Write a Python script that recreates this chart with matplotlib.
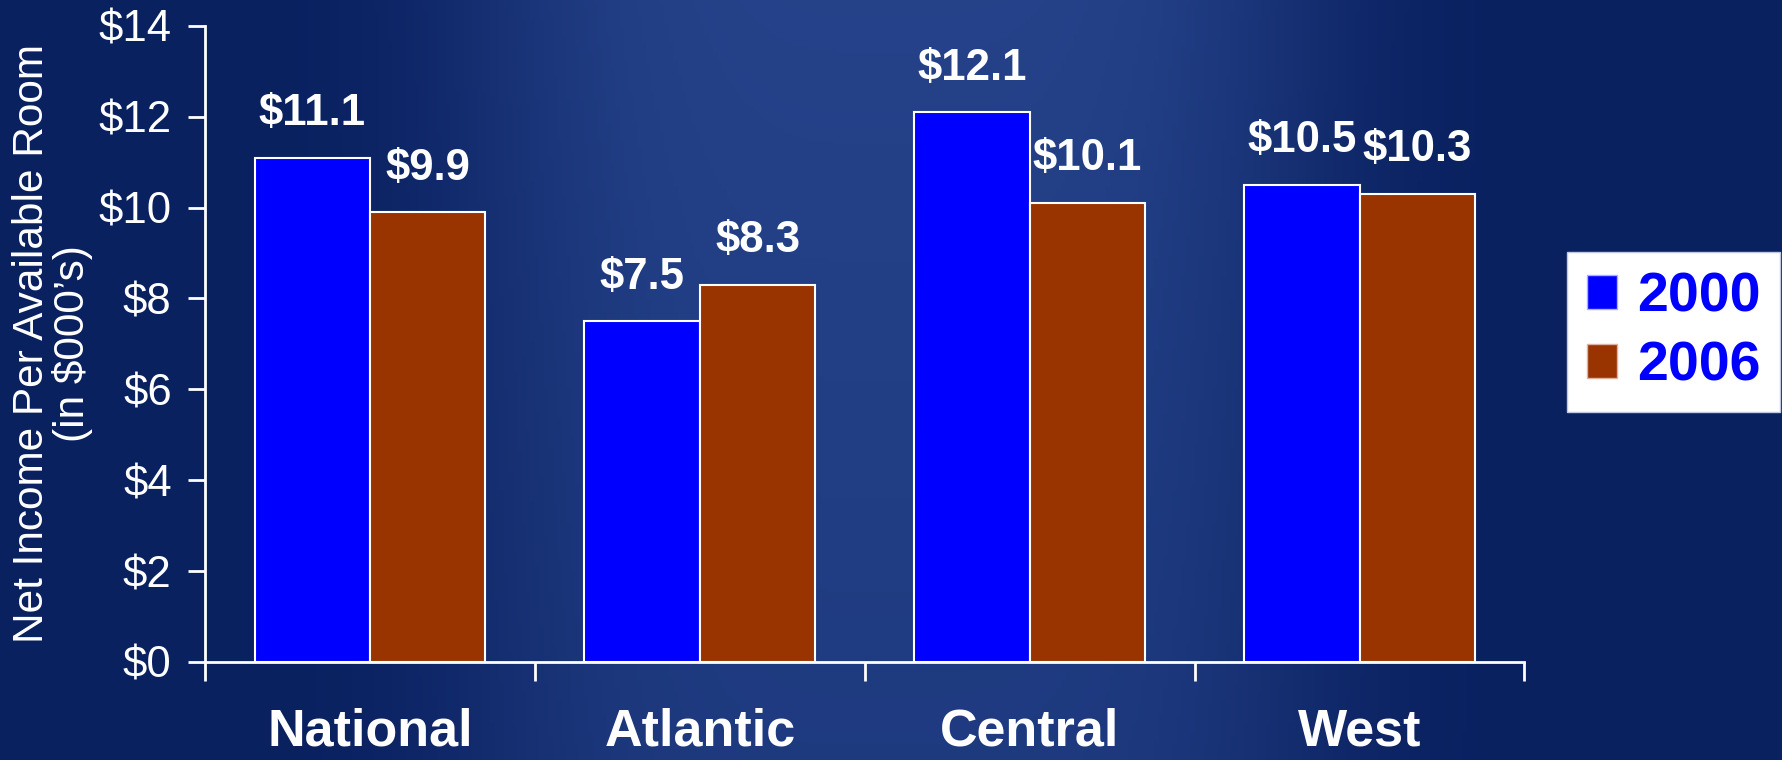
import numpy as np
import matplotlib
matplotlib.use("Agg")
import matplotlib.pyplot as plt
from matplotlib.patches import Patch

categories = ["National", "Atlantic", "Central", "West"]
series_names = ["2000", "2006"]
values_2000 = [11.1, 7.5, 12.1, 10.5]
values_2006 = [9.9, 8.3, 10.1, 10.3]
yticks = [0, 2, 4, 6, 8, 10, 12, 14]
ytick_labels = ["$0", "$2", "$4", "$6", "$8", "$10", "$12", "$14"]
colors = ["#0000FF", "#993300"]

plt.rcParams["font.family"] = ["Liberation Sans", "DejaVu Sans"]

fig = plt.figure(figsize=(17.83, 7.6), dpi=100)
fig.patch.set_facecolor("#0a2160")

# decorative background (lighter photo-like zone in the middle)
bg = fig.add_axes([0, 0, 1, 1], zorder=0)
xx = np.linspace(0, 1, 400)
yy = np.linspace(0, 1, 200)
X, Y = np.meshgrid(xx, yy)
w = np.exp(-((X - 0.50) / 0.24) ** 4) * (0.65 + 0.2 * Y)
c0 = np.array([10, 33, 96]) / 255.0
c1 = np.array([42, 72, 145]) / 255.0
img = c0[None, None, :] * (1 - w[..., None]) + c1[None, None, :] * w[..., None]
bg.imshow(img, aspect="auto", extent=[0, 1, 0, 1], origin="lower")
bg.set_axis_off()

ax = fig.add_axes([0.115, 0.129, 0.74, 0.837], zorder=1)
ax.set_facecolor("none")

x = np.arange(len(categories)) + 0.5
bw = 0.35
b1 = ax.bar(x - bw / 2, values_2000, bw, color=colors[0], edgecolor="white", linewidth=1.5)
b2 = ax.bar(x + bw / 2, values_2006, bw, color=colors[1], edgecolor="white", linewidth=1.5)

for bars, vals in ((b1, values_2000), (b2, values_2006)):
    for r, v in zip(bars, vals):
        ax.annotate(f"${v}", (r.get_x() + r.get_width() / 2, v), xytext=(0, 17),
                    textcoords="offset points", ha="center", va="bottom",
                    color="white", fontsize=31.5, fontweight="bold")

ax.set_xlim(0, 4)
ax.set_ylim(0, 14)
ax.set_yticks(yticks)
ax.set_yticklabels(ytick_labels)
ax.set_xticks([0, 1, 2, 3, 4])
ax.set_xticklabels([])
ax.set_xticks(x, minor=True)
ax.set_xticklabels(categories, minor=True)
ax.tick_params(axis="x", which="minor", length=0, pad=33, labelsize=37.5, labelcolor="white")
for t in ax.get_xticklabels(minor=True):
    t.set_fontweight("bold")
ax.tick_params(axis="x", which="major", length=14, width=2, color="white", direction="out")
ax.tick_params(axis="y", length=12, width=2, color="white", labelsize=31.5, labelcolor="white", pad=12)

for s in ["top", "right"]:
    ax.spines[s].set_visible(False)
for s in ["left", "bottom"]:
    ax.spines[s].set_color("white")
    ax.spines[s].set_linewidth(2)

ax.set_ylabel("Net Income Per Available Room\n(in $000\u2019s)", color="white", fontsize=30.5,
              linespacing=1.0, labelpad=4)

handles = [Patch(facecolor=colors[0], edgecolor="#aab0ff", label=series_names[0]),
           Patch(facecolor=colors[1], edgecolor="#e0b0a0", label=series_names[1])]
leg = fig.legend(handles=handles, loc="upper left", bbox_to_anchor=(0.879, 0.668),
                 frameon=True, fancybox=False, framealpha=1, fontsize=40, handlelength=0.55,
                 handleheight=0.55, handletextpad=0.35, labelspacing=0.3,
                 borderpad=0.35, borderaxespad=0)
leg.get_frame().set_facecolor("white")
leg.get_frame().set_edgecolor("#c0c8e0")
leg.get_frame().set_linewidth(1)
for t in leg.get_texts():
    t.set_color("#0000FF")
    t.set_fontweight("bold")

fig.savefig("out.png", dpi=100, facecolor=fig.get_facecolor())
